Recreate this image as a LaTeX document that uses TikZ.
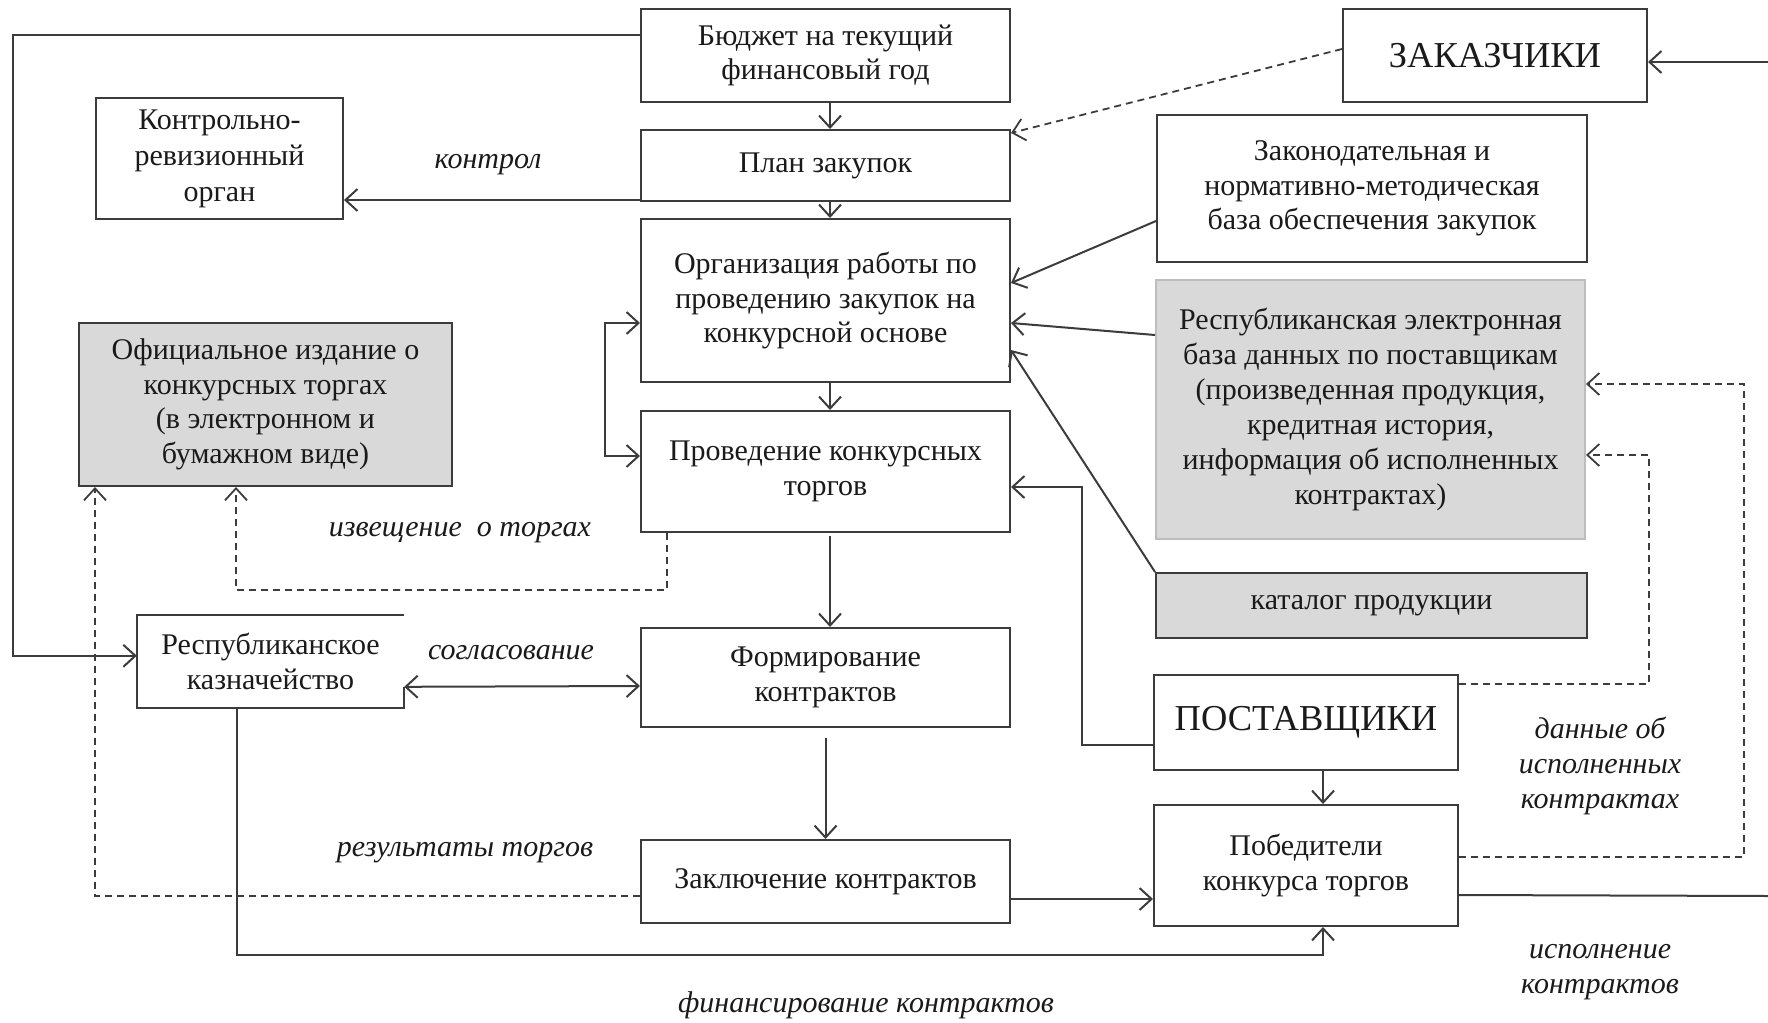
\documentclass[tikz,border=0pt]{standalone}
\usepackage{fontspec}
\setmainfont{Liberation Serif}
\usetikzlibrary{arrows.meta,calc}
\definecolor{linec}{HTML}{3C3C3C}
\definecolor{textc}{HTML}{1A1A1A}
\definecolor{grayf}{HTML}{D9D9D9}
\definecolor{lightline}{HTML}{BDBDBD}
\begin{document}
\begin{tikzpicture}[x=1pt,y=-1pt,
  >={Straight Barb[length=12pt,width=22pt]},
  box/.style={draw=linec, line width=2pt, fill=white, align=center, inner sep=0pt,
    minimum width=369pt, text=textc, font=\fontsize{30}{34.5}\selectfont},
  graybox/.style={box, fill=grayf},
  lab/.style={font=\fontsize{30}{35}\selectfont\itshape, align=center, text=textc, inner sep=0pt},
  conn/.style={draw=linec, line width=2pt},
  dsh/.style={draw=linec, line width=1.8pt, dash pattern=on 7pt off 5pt},
]
\useasboundingbox (0,0) rectangle (1768,1022);

% boxes
\node[box, minimum height=93pt] (budget) at (825.5,55.5) {Бюджет на текущий\\финансовый год};
\node[box, minimum height=71pt] (plan) at (825.5,165.5) {План закупок};
\node[box, minimum height=163pt] (org) at (825.5,300.5) {Организация работы по\\проведению закупок на\\конкурсной основе};
\node[box, minimum height=121pt] (prov) at (825.5,471.5) {Проведение конкурсных\\торгов};
\node[box, minimum height=99pt] (form) at (825.5,677.5) {Формирование\\контрактов};
\node[box, minimum height=83pt] (zakl) at (825.5,881.5) {Заключение контрактов};
\node[box, minimum width=247pt, minimum height=121pt, font=\fontsize{30}{36}\selectfont] (kontr) at (219.5,158.5) {Контрольно-\\ревизионный\\орган};
\node[graybox, minimum width=373pt, minimum height=163pt] (ofic) at (265.5,404.5) {Официальное издание о\\конкурсных торгах\\(в электронном и\\бумажном виде)};
\node[align=center, inner sep=0pt, minimum width=267pt, minimum height=93pt, text=textc, font=\fontsize{30}{34.5}\selectfont] (kazn) at (270.5,661.5) {Республиканское\\казначейство};
\node[box, minimum width=304pt, minimum height=93pt, font=\fontsize{36.5}{42}\selectfont] (zakaz) at (1495,55.5) {ЗАКАЗЧИКИ};
\node[box, minimum width=430pt, minimum height=147pt] (zakon) at (1372,188.5) {Законодательная и\\нормативно-методическая\\база обеспечения  закупок};
\node[graybox, draw=lightline, minimum width=429pt, minimum height=259pt, font=\fontsize{30}{35}\selectfont] (baza) at (1370.5,409.5) {Республиканская электронная\\база данных по поставщикам\\(произведенная продукция,\\кредитная история,\\информация об исполненных\\контрактах)};
\node[graybox, minimum width=431pt, minimum height=65pt] (katalog) at (1371.5,605.5) {каталог продукции};
\node[box, minimum width=304pt, minimum height=95pt, font=\fontsize{36.5}{42}\selectfont] (post) at (1306,722.5) {ПОСТАВЩИКИ};
\node[box, minimum width=304pt, minimum height=121pt] (pob) at (1306,865.5) {Победители\\конкурса торгов};

% treasury box outline (right edge only partly drawn)
\draw[conn] (kazn.north east) -- (kazn.north west) -- (kazn.south west) -- (kazn.south east) -- ([yshift=-72pt]kazn.north east);

% helper coordinates
\coordinate (L) at (13,300);
\coordinate (lp) at (605,400);
\coordinate (p13) at (1082,600);
\coordinate (p15) at (1649,600);
\coordinate (p16) at (1744,600);
\coordinate (e17) at (1768,896);
\coordinate (e18) at (1768,62);
\coordinate (p20) at (600,955);
\coordinate (p21) at (400,590);
\coordinate (k1) at (641,200);

% connectors
\draw[conn,->] ([yshift=-27pt]budget.north west) -| (L) |- ([yshift=-41pt]kazn.north west);
\draw[conn,->] ([xshift=4.5pt]budget.south) -- ([xshift=4.5pt]plan.north);
\draw[conn,->] ([xshift=4.5pt]plan.south) -- ([xshift=4.5pt]org.north);
\draw[conn,->] ([xshift=4.5pt]org.south) -- ([xshift=4.5pt]prov.north);
\draw[conn,->,shorten <=3pt] ([xshift=4.5pt]prov.south) -- ([xshift=4.5pt]form.north);
\draw[conn,->,shorten <=10pt] (form.south) -- (zakl.north);
\draw[conn,->] (k1) -- (kontr.east |- k1);
\draw[conn,<->] ([yshift=-105pt]org.north west) -| (lp) |- ([yshift=-46pt]prov.north west);
\draw[dsh,->] ([yshift=-41pt]zakaz.north west) -- ([yshift=-4pt]plan.north east);
\draw[conn,->] ([yshift=-107pt]zakon.north west) -- ([yshift=-65pt]org.north east);
\draw[conn,->] ([yshift=-56pt]baza.north west) -- ([yshift=-105pt]org.north east);
\draw[conn,->] (katalog.north west) -- ([yshift=-132pt]org.north east);
\draw[conn,->] ([yshift=-71pt]post.north west) -| (p13) |- ([yshift=-77pt]prov.north east);
\draw[conn,->] ([xshift=17pt]post.south) -- ([xshift=17pt]pob.north);
\draw[dsh,->] ([yshift=-10pt]post.north east) -| (p15) |- ([yshift=-176pt]baza.north east);
\draw[dsh,->] ([yshift=-53pt]pob.north east) -| (p16) |- ([yshift=-105pt]baza.north east);
\draw[conn] ([yshift=-91pt]pob.north east) -- (e17);
\draw[conn,->] (e18) -- (zakaz.east |- e18);
\draw[conn,->] ([yshift=-60pt]zakl.north east) -- ([yshift=-95pt]pob.north west);
\draw[conn,->] ([xshift=100pt]kazn.south west) |- (p20) -| ([xshift=17pt]pob.south);
\draw[dsh,->] ([xshift=27pt]prov.south west) |- (p21) -| ([xshift=158pt]ofic.south west);
\draw[dsh,->] ([yshift=-57pt]zakl.north west) -| ([xshift=17pt]ofic.south west);
\draw[conn,<->] ([yshift=-72pt]kazn.north east) -- ([yshift=-59pt]form.north west);

% labels
\node[lab] (l1) at (488,165) {контрол};
\node[lab] (l2) at (460,533) {извещение~ о торгах};
\node[lab] (l3) at (511,653) {согласование};
\node[lab] (l4) at (465,853) {результаты торгов};
\node[lab] (l5) at (866,1005) {финансирование контрактов};
\node[lab] (l6) at (1600,766) {данные об\\исполненных\\контрактах};
\node[lab] (l7) at (1600,972) {исполнение\\контрактов};
\end{tikzpicture}
\end{document}
